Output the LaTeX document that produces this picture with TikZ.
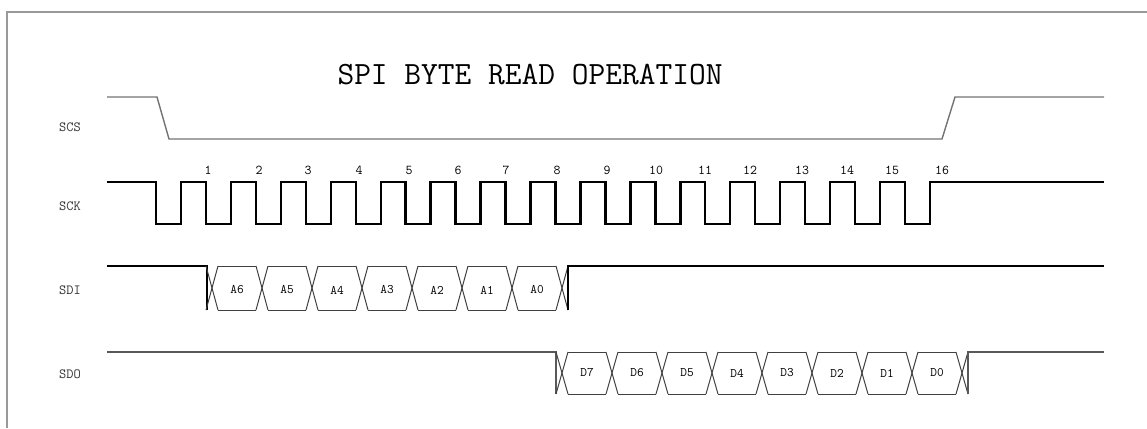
\documentclass[tikz,border=0pt]{standalone}
\begin{document}
\begin{tikzpicture}[x=1pt,y=-1pt,
  frame/.style={draw=black!40, line width=1.3pt},
  cswave/.style={draw=black!55, line width=1.4pt, line join=miter},
  clkwave/.style={draw=black, line width=2.4pt, line join=miter},
  buswave/.style={draw=black!75, line width=1pt},
  sdowave/.style={draw=black!65, line width=1.3pt},
  title/.style={font=\ttfamily\fontsize{32.5}{32.5}\selectfont, inner sep=0pt},
  signame/.style={font=\ttfamily\fontsize{14}{14}\selectfont, inner sep=0pt, text=black!80},
  clknum/.style={font=\ttfamily\fontsize{13.5}{13.5}\selectfont, inner sep=0pt},
  bitlbl/.style={font=\ttfamily\fontsize{13}{13}\selectfont, inner sep=0pt}]
\useasboundingbox (0,0) rectangle (1147,428);
\draw[frame] (7,428) -- (7,12) -- (1147,12);
\node[title] (ttl) at (530,75) {SPI BYTE READ OPERATION};
% signal names
\node[signame] (nSCS) at (70,127) {SCS};
\node[signame] (nSCK) at (70,206) {SCK};
\node[signame] (nSDI) at (70,290) {SDI};
\node[signame] (nSDO) at (70,374) {SDO};
% SCS
\draw[cswave] (107,97) -- (157,97) -- (169,139) -- (942,139) -- (955,97) -- (1104,97);
% SCK
\draw[clkwave] (107,182)
  foreach \k in {0,...,15} { -- ({156+49.93*\k},182) -- ({156+49.93*\k},224)
     -- ({181+49.93*\k},224) -- ({181+49.93*\k},182) } -- (1104,182);
% clock numbers
\foreach \n/\x in {1/208,2/259,3/308,4/359,5/409,6/458,7/506,8/557,9/607,10/656,11/705,12/750,13/802,14/847,15/892,16/942}
  \node[clknum] (c\n) at (\x,170) {\n};
% SDI
\draw[clkwave] (107,266) -- (207,266) -- (207,310);
\foreach \i in {0,...,7} {
  \draw[buswave] ({206+50*\i},266) -- ({218+50*\i},310);
  \draw[buswave] ({206+50*\i},310) -- ({218+50*\i},266);
}
\foreach \i in {0,...,6} {
  \draw[buswave] ({218+50*\i},266) -- ({256+50*\i},266);
  \draw[buswave] ({218+50*\i},310) -- ({256+50*\i},310);
}
\draw[clkwave] (568,310) -- (568,266) -- (1104,266);
\foreach \l [count=\i from 0] in {A6,A5,A4,A3,A2,A1,A0}
  \node[bitlbl] (a\i) at ({237+50*\i},290) {\l};
% SDO
\draw[sdowave] (107,352) -- (556,352) -- (556,394);
\foreach \j in {0,...,8} {
  \draw[buswave] ({556+50*\j},352) -- ({568+50*\j},394);
  \draw[buswave] ({556+50*\j},394) -- ({568+50*\j},352);
}
\foreach \j in {0,...,7} {
  \draw[buswave] ({568+50*\j},352) -- ({606+50*\j},352);
  \draw[buswave] ({568+50*\j},394) -- ({606+50*\j},394);
}
\draw[sdowave] (968,394) -- (968,352) -- (1104,352);
\foreach \l [count=\j from 0] in {D7,D6,D5,D4,D3,D2,D1,D0}
  \node[bitlbl] (d\j) at ({587+50*\j},373) {\l};
\end{tikzpicture}
\end{document}
